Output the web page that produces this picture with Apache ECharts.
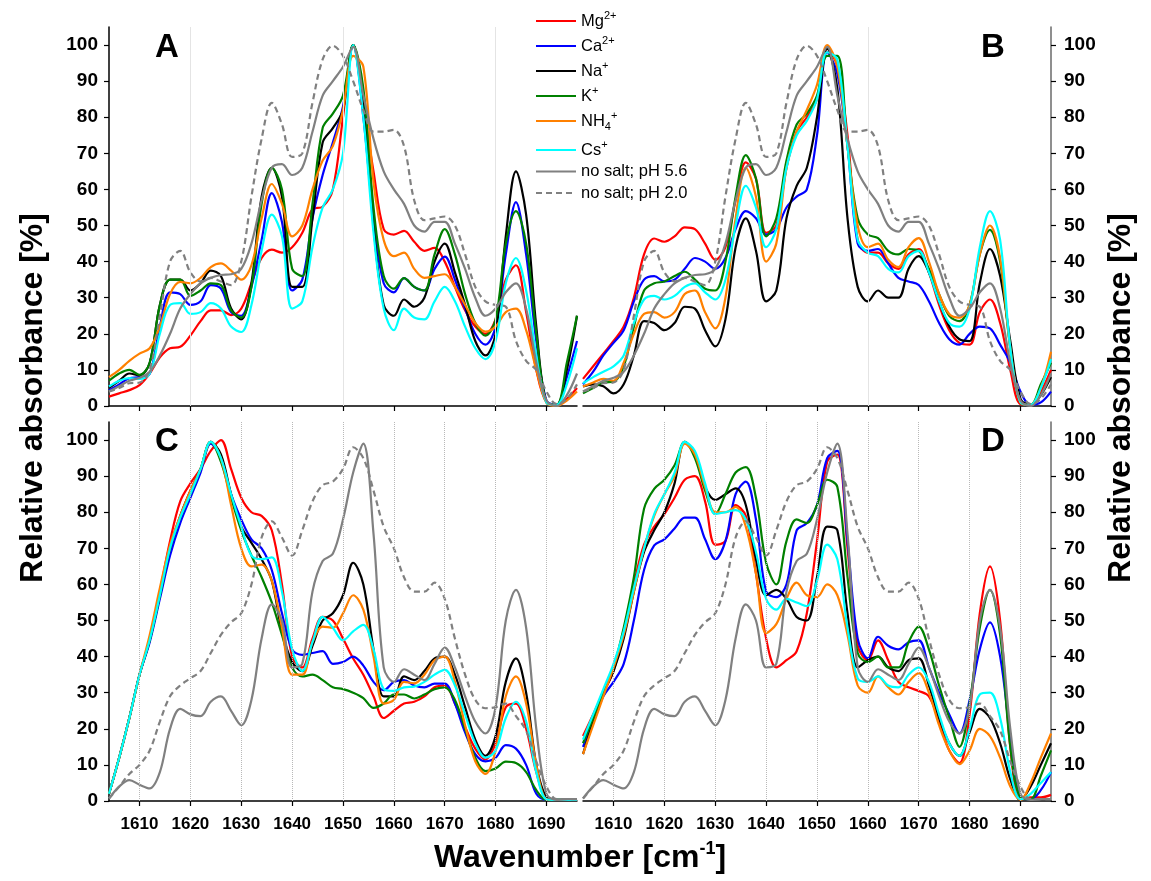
<!DOCTYPE html>
<html><head><meta charset="utf-8">
<script src="https://cdn.jsdelivr.net/npm/echarts@6/dist/echarts.min.js"></script>
<style>html,body{margin:0;padding:0;background:#fff}#c{width:1151px;height:881px}</style>
</head><body><div id="c"></div><script>
// ---------------- DATA ----------------
const wavenumbers = [1604,1606,1608,1610,1612,1614,1616,1618,1620,1622,1624,1626,1628,1630,1632,1634,1636,1638,1640,1642,1644,1646,1648,1650,1652,1654,1656,1658,1660,1662,1664,1666,1668,1670,1672,1674,1676,1678,1680,1682,1684,1686,1688,1690,1692,1694,1696];
const seriesNames = ['Mg2+','Ca2+','Na+','K+','NH4+','Cs+','no salt; pH 5.6','no salt; pH 2.0'];
const xTickValues = [1610,1620,1630,1640,1650,1660,1670,1680,1690];
const yTickValues = [0,10,20,30,40,50,60,70,80,90,100];
const gridLinesA = [1620,1650,1680];
const gridLinesB = [1660];
const gridLinesCD = [1610,1620,1630,1640,1650,1660,1670,1680,1690];

// Panel A
const A_Mg = [2.6,3.5,4.4,5.8,9,13.5,16,16.4,19.5,23.5,26.5,26.5,25.2,27,34,41,43.3,42.5,44,48,54.5,55.2,60,80,100,83,65,49,47.5,48.5,45.5,43,43.8,40,33,26.5,22,20,24,35,39,26,10,1,0.3,2,5];
const A_Ca = [4.4,6,7.7,8,9,22,31.5,31,28,29,33.5,32.5,26,25,33,46,59,51,32,35,52,64,73,83,100,80,52,34,31.5,35.4,33,32,38,41.4,35,27,20,17,22,42,56.5,42,18,1.5,0.3,8,18];
const A_Na = [5,7,9,8.5,12,28,35,35,32,34,37.5,36,27,24,34,58,66,58,33,33,52,73,77,82,100,85,50,28,25,29.5,27.5,30,40,45,37,28,18,14,20,47,65,53,22,1,0.3,10,25];
const A_K = [7,9,10,8.6,12,28,35,35,30.5,32,34,33.5,26.5,24.5,33,56,66,60,38,36,56,77,81,86,100,88,55,36,32.5,35.4,33,32,42,49,42,31,23,19.5,24,45,54,45,20,1,0.3,12,25];
const A_NH4 = [8,10,12.5,14.5,16,22,31,34.4,34,35.5,38.5,39.5,37.5,35,39,52,61.5,56,47,50,60,68,72,82,97,94,62,46,41.5,42.5,38,35.5,36,36.5,33,28,23,20.6,22,26,27,21,10,1,0,1.5,4];
const A_Cs = [5.4,7,7.7,7.5,9,20,28,28.5,25.5,26,28.5,27,22,20.5,28,43,53,47,27,29,44,55,60,70,100,80,48,27,21,27,24.5,24,29,33,29,22,16,13,18,34,41,32,14,1,0.3,6,16];
// Panel B
const B_Mg = [7.5,11,14.5,18,22,30,42,46.4,45.5,47,49.5,49,45,40.5,44,57,67.5,63,48,50,66,76,80,85,99,94,75,46,42.5,42.5,39.5,38,42,43.5,37,28,21,17.5,17,26,29.5,23,10,0.5,0.3,4,10];
const B_Ca = [6,9.5,14,17.5,21,29,35,36,34.5,35,38,41,40,38,41,49,54,52,47.5,49,55,58,60,75,98,92,72,45,43,43.5,39.5,35.5,34.5,33.5,29,23,18.5,17,20,22,21.5,17,12,4,0.3,1,4];
const B_Na = [5.4,6,5.5,3.5,6,14,23.5,23,21,23,27.5,27,21,16.5,24,44,52,43,29,32,52,61,66,80,99,88,52,33,29,32,30,30,38,41.5,37,29,22,18.5,18,34,43.5,36,18,2,0.3,3,8];
const B_K = [3.5,5,6.5,6.7,11,22,32,34,34.5,36,37.2,35,32.5,32,40,58,69.5,63,47,52,68,78,81,86,97,97,72,52,47.5,46.5,43,42,43.5,43,38,31,25,23.5,28,42,48.8,40,16,1,0.3,6,12];
const B_NH4 = [5.4,6.5,7.5,7,12,20,25.5,26,24.5,26,31,32,26,21.5,30,52,66,58,40,45,66,76,82,89,100,94,72,50,44,45,40.5,38.5,44,46.5,40,31,25.5,24.5,28,42,50,41,16,1,0.3,5,15];
const B_Cs = [6.3,8,9.5,11,14,23,29.5,30.5,29.5,30.5,33,34,31.5,29.5,35,50,61,55,44,49,66,75,79,85,98,96,72,46,42.5,41.5,38,37,41.5,43,37,29,23,22,27,44,54,46,16,1,0.3,5,13];
// no salt references, panels A and B
const noSalt56_AB = [4,5.5,7,7.8,9.5,14,20,27,31,34,35.5,36.3,36.5,38,45,57,66,67,64,66,76,86,90,94,99.5,86,74,65,60,56,50,48.3,51,51,45,38,30,25,27,31.5,34,27,12,1.5,0,3,9];
const noSalt20_AB = [4,5,6.3,6.5,10,25,40,43,37,34.5,35.5,34.5,33.5,40,58,74,84,78,69,70,84,96,99.8,97,90,82,76,76,76.5,72,57,51.5,52,52.5,50,42,33,29,28,27.5,18,12.5,10,4,0.5,2,6];
// Panel C
const C_Mg = [2,12,23,35,44.6,58,72,83,88,92,97,100,92,84,80,79,75,60,40,37,45,51,50,45,39.5,35,29,23,25,27,27.5,29,31.5,32,27,20.5,14.5,11.5,16,26,27,20,8,0.7,0.3,0.3,0.3];
const C_Ca = [2,12,23,35,44,56,68,77,84,91,99,95,85,78,72.5,70,64,52,42,40.5,41,41.5,38,38.5,40,37.5,33,30.7,33,33.5,32,31.5,32.5,32.5,27,19,13,11,12,15.5,14.5,10,2,0.3,0.3,0.3,0.3];
const C_Na = [2,12,23,35,44.6,57,70,79,86,92,99.5,96,85,76,71.5,67,61,47,38.5,36,43,50,52,57,66,60,42,29,29,34.5,33.5,36,39.5,40,35,26,17,12.5,18,33,39.5,30,10,1,0.3,0.3,0.5];
const C_K = [2,12,23,35,44.6,57,70,78.5,85,92,99.5,94,84,75,68,62,55,46,37,34.5,35,33.5,31.5,31,30,28.5,25.8,27,29.5,29.5,28.4,29.5,31,31.5,28,20,12,8.3,9,10.9,10.5,8,3,0.3,0.3,0.3,0.3];
const C_NH4 = [2,12,23,35,46,59,71,79,86,92,99.5,95,82,70,65,65.5,61,48,35,35,44,48.3,48,52,57,53,40,27,28,33,32.6,35,39,40,33,21,11,7.5,14,29,34.5,27,10,0.5,0.3,0.3,0.3];
const C_Cs = [2,12,23,35,44.6,57,70,78.5,85,92,99.5,95,85,76,68,67,67.5,58,42,36,44,51,48,44.5,47,48.8,42,31,30.5,31.5,31.7,33,35,36.3,32,24,16,12,14,23,27.5,22,8,0.5,0.3,0.3,0.3];
// Panel D
const D_Mg = [18,24,30,36,47,60,71,76,79.5,84,89,90,83,71,72,82,79,63,45,37,39,41.5,52,72,94,96,70,43,39,44.5,39,33,31.5,30.5,29,22,14,10.5,24,52,65,50,15,0.5,1,1,1.7];
const D_Ca = [15,22,29,33,38,50,64,70.8,72.5,75.5,78.5,78.5,72.5,67,72,85,88.5,78,58,56.5,60,75,77,82,95,97,72,45,39.5,45.5,43,42,44,44.5,37,30,24,18.7,28,42,49.5,40,18,1,0.5,3,8];
const D_Na = [13,22,30,36,45,58,69,75,80,88,99.5,96,87,83.4,85,86.6,82,67,57,58.5,56,51,50,62,76,75,52,37,39,40,37,36,39,39.5,32,23,16,12.5,19,25.5,23,16,6,0.3,4,10,16];
const D_K = [16,23,30,37,48,62,81,86.5,89,93,99.5,95,86,79.5,85,91,92.5,84,66,60,72,78,77,82,89,87,62,41,38.5,40,37,37,44,48.3,42,32,23,15,27,48,58.5,46,15,1,0.5,7,14];
const D_NH4 = [13,21,29,37,46,58,70,79,85,90,99,96,87,80,80,81.5,76,63,46.5,49,56,60.5,57,56.5,60,57,46,32,30,34.5,31.5,29.5,33,35.4,30,21,14,10.2,14,20,18,12,4,0.3,5,12,18.7];
const D_Cs = [17,24,31,38,47,59,70,79.5,85,91,99.5,97,88,79.5,80,80.6,78,69,56,53,56,55,54,61,71,67,48,34,33,34.5,32,31.5,35,37,33,24,16,12.5,20,29.5,30,23,8,0.5,2,5,8];
// no salt references, panels C and D
const noSalt56_CD = [0.7,4,5.8,4.5,3.5,8,20,25.5,24,23.5,27.5,29,25,21,28,45,54.5,50,37,38,58,66.5,68.5,78,91,99,74,37,33,36.5,35,33.5,38,42.5,37,29,22,18.7,26,50,58.5,48,20,2,0.3,0.5,0.5];
const noSalt20_CD = [0.7,4,7.5,10,14,22,29,32,34,36,41,46,49.5,52,60,73,77.5,73,68,75,83,87.5,88.5,92,98,95,86,76,70,62,58,58,60.5,56,45,35,28,25.7,26,27,23.5,19.5,11,4,0.5,0.5,0.5];

// ---------------- CHART ----------------
const FONT = '"Liberation Sans", Arial, sans-serif';
const colors = ['#ff0000','#0000ff','#000000','#008000','#ff8000','#00ffff','#808080','#808080'];
const panels = [
  {data:[A_Mg,A_Ca,A_Na,A_K,A_NH4,A_Cs,noSalt56_AB,noSalt20_AB], gridLines:gridLinesA, gl:{color:'#e4e4e4', type:'solid'}},
  {data:[B_Mg,B_Ca,B_Na,B_K,B_NH4,B_Cs,noSalt56_AB,noSalt20_AB], gridLines:gridLinesB, gl:{color:'#e4e4e4', type:'solid'}},
  {data:[C_Mg,C_Ca,C_Na,C_K,C_NH4,C_Cs,noSalt56_CD,noSalt20_CD], gridLines:gridLinesCD, gl:{color:'#b8b8b8', type:'dotted'}},
  {data:[D_Mg,D_Ca,D_Na,D_K,D_NH4,D_Cs,noSalt56_CD,noSalt20_CD], gridLines:gridLinesCD, gl:{color:'#b8b8b8', type:'dotted'}}
];
const grids = [
  {left:109, top:27, width:468, height:379},
  {left:583, top:27, width:468, height:379},
  {left:109, top:422, width:468, height:379},
  {left:583, top:422, width:468, height:379}
];
const xAxes = grids.map((g,i)=>({
  type:'value', gridIndex:i, min:1604, max:1696,
  axisLine:{show:true, onZero:false, lineStyle:{color:'#000', width:1.5}},
  axisTick:{show:true, length:5, customValues:xTickValues, lineStyle:{color:'#000', width:1.2}},
  axisLabel:{show:i>=2, customValues:xTickValues, formatter:v=>String(v), showMinLabel:true, showMaxLabel:true, hideOverlap:false,
    color:'#000', fontFamily:FONT, fontWeight:'bold', fontSize:17, margin:15},
  splitLine:{show:false}
}));
const yAxes = grids.map((g,i)=>({
  type:'value', gridIndex:i, min:0, max:105, position:(i%2===1)?'right':'left',
  axisLine:{show:true, onZero:false, lineStyle:{color:(i%2===1)?'#6a6a6a':'#000', width:1.5}},
  axisTick:{show:true, length:5, customValues:yTickValues, lineStyle:{color:'#000', width:1.2}},
  axisLabel:{show:true, customValues:yTickValues, color:'#000', fontFamily:FONT, fontWeight:'bold', fontSize:19, margin:(i%2===1)?13:11},
  splitLine:{show:false}
}));
const series = [];
panels.forEach((p,pi)=>{
  p.data.forEach((arr,si)=>{
    const s = {
      type:'line', name:seriesNames[si], xAxisIndex:pi, yAxisIndex:pi,
      data: wavenumbers.map((w,k)=>[w, arr[k]]),
      showSymbol:false, symbol:'none', smooth:0.35,
      lineStyle:{color:colors[si], width:2.2, type: si===7 ? [6,4] : 'solid'},
      itemStyle:{color:colors[si]},
      z: 2
    };
    if (si===0) {
      s.markLine = {silent:true, symbol:['none','none'], label:{show:false},
        lineStyle:{color:p.gl.color, type:p.gl.type, width:1},
        data:p.gridLines.map(v=>({xAxis:v}))};
    }
    series.push(s);
  });
});
const legendRich = {
  n:{fontSize:16.5, fontFamily:FONT, color:'#000', lineHeight:22},
  p:{fontSize:11, fontFamily:FONT, color:'#000', lineHeight:13, verticalAlign:'top'},
  b:{fontSize:11, fontFamily:FONT, color:'#000', lineHeight:13, verticalAlign:'bottom'}
};
const legendFmt = name => {
  const m = {'Mg2+':'{n|Mg}{p|2+}','Ca2+':'{n|Ca}{p|2+}','Na+':'{n|Na}{p|+}','K+':'{n|K}{p|+}','NH4+':'{n|NH}{b|4}{p|+}','Cs+':'{n|Cs}{p|+}'};
  return m[name] || ('{n|' + name + '}');
};
const legendBase = {orient:'vertical', left:535, itemWidth:40, itemHeight:14, padding:0, selectedMode:false,
  itemStyle:{opacity:0, borderWidth:0}, formatter:legendFmt, textStyle:{rich:legendRich}};
const option = {
  animation:false,
  backgroundColor:'#fff',
  grid: grids,
  xAxis: xAxes,
  yAxis: yAxes,
  legend: [
    Object.assign({}, legendBase, {top:10, itemGap:5.5, data:seriesNames.slice(0,5)}),
    Object.assign({}, legendBase, {top:139, itemGap:3, data:seriesNames.slice(5,6)}),
    Object.assign({}, legendBase, {top:163, itemGap:4.5, data:seriesNames.slice(6,8)})
  ],
  series: series,
  graphic: [
    {type:'text', x:167, y:48, style:{text:'A', font:'bold 33px '+FONT, fill:'#000', textAlign:'center', textVerticalAlign:'middle'}},
    {type:'text', x:993, y:48, style:{text:'B', font:'bold 33px '+FONT, fill:'#000', textAlign:'center', textVerticalAlign:'middle'}},
    {type:'text', x:167, y:442, style:{text:'C', font:'bold 33px '+FONT, fill:'#000', textAlign:'center', textVerticalAlign:'middle'}},
    {type:'text', x:993, y:442, style:{text:'D', font:'bold 33px '+FONT, fill:'#000', textAlign:'center', textVerticalAlign:'middle'}},
    {type:'text', x:33, y:398, rotation:Math.PI/2, style:{text:'Relative absorbance [%]', font:'bold 32px '+FONT, fill:'#000', textAlign:'center', textVerticalAlign:'middle'}},
    {type:'text', x:1121, y:398, rotation:Math.PI/2, style:{text:'Relative absorbance [%]', font:'bold 32px '+FONT, fill:'#000', textAlign:'center', textVerticalAlign:'middle'}},
    {type:'text', x:580, y:858, style:{text:'{m|Wavenumber [cm}{s|-1}{m|]}', textAlign:'center', textVerticalAlign:'middle',
      rich:{m:{font:'bold 32px '+FONT, fill:'#000', lineHeight:36}, s:{font:'bold 18px '+FONT, fill:'#000', lineHeight:20, verticalAlign:'top'}}}}
  ]
};
const chart = echarts.init(document.getElementById('c'));
chart.setOption(option);
</script></body></html>
